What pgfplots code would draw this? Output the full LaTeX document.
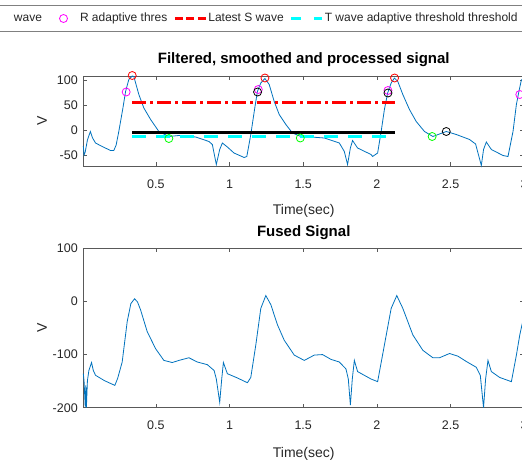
\documentclass[border=0pt]{standalone}
\usepackage{pgfplots}
\pgfplotsset{compat=1.18}
\usepackage{fontspec}
\setmainfont{Liberation Sans}
\definecolor{mblue}{RGB}{0,114,189}
\definecolor{axgray}{RGB}{38,38,38}
\definecolor{mcyan}{RGB}{0,255,255}
\definecolor{mgreen}{RGB}{0,255,0}
\definecolor{mmag}{RGB}{255,0,255}

\pgfplotsset{
  mstyle/.style={
    scale only axis, clip=false,
    axis line style={black!65, line width=0.6pt},
    tick style={black!65, line width=0.6pt},
    tick align=inside, major tick length=4pt,
    xmin=0.007, xmax=3, xtick={0.5,1,1.5,2,2.5,3},
    /pgf/number format/assume math mode=true,
    tick label style={font=\fontsize{12.5}{14}\selectfont, text=axgray},
    xticklabel style={yshift=-10pt},
    yticklabel style={xshift=-2pt},
    label style={font=\fontsize{14}{16}\selectfont, text=axgray},
    every axis title shift=0pt,
    title style={font=\fontsize{15}{17}\selectfont\bfseries,
      at={(axis description cs:0.5,1)}, anchor=center, yshift=16pt},
    xlabel={Time(sec)}, ylabel={V},
    ylabel style={at={(axis description cs:-0.0937,0.5)}, anchor=center},
  },
  sig/.style={mblue, line width=0.8pt},
  circ/.style={only marks, mark=o, mark size=4pt, line width=0.8pt, #1},
}

\begin{document}
\begin{tikzpicture}[x=1pt,y=1pt]
\useasboundingbox (0,0) rectangle (522,461);
\clip (0,0) rectangle (522,461);

% filtered signal
\begin{axis}[mstyle, at={(83.3pt,295pt)}, anchor=south west,
  width=440.9pt, height=90pt,
  ymin=-71, ymax=109, ytick={-50,0,50,100},
  title={Filtered, smoothed and processed signal},
  xlabel style={at={(axis description cs:0.5,0)}, anchor=center, yshift=-45pt},
  legend columns=-1, legend cell align=left,
  legend style={at={(axis description cs:-0.2445,1.7889)}, anchor=north west,
    draw=black!50, line width=1pt, fill=white, inner xsep=6pt, inner ysep=6pt,
    font=\fontsize{12}{14}\selectfont, text=axgray,
    nodes={inner sep=1pt, text height=9pt, text depth=3pt},
    /tikz/every odd column/.append style={column sep=0pt},
    /tikz/every even column/.append style={column sep=5pt}},
]
\addlegendimage{legend image code/.code={\path[draw=none] (0pt,0pt) -- (31pt,0pt);}}
\addlegendentry{wave}
\addlegendimage{legend image code/.code={\path[draw=none] (0pt,0pt) -- (31pt,0pt);
  \draw[mmag, line width=0.8pt] (15.5pt,0pt) circle (4pt);}}
\addlegendentry{R adaptive thres}
\addlegendimage{legend image code/.code={\draw[red, line width=3pt, dash pattern=on 8pt off 3.5pt] (0pt,0pt) -- (31pt,0pt);}}
\addlegendentry{Latest S wave}
\addlegendimage{legend image code/.code={\draw[mcyan, line width=3pt, dash pattern=on 10pt off 13pt] (0pt,0pt) -- (31pt,0pt);}}
\addlegendentry{T wave adaptive threshold threshold\hspace*{12pt}}

\addplot[sig] coordinates {
(0.007,-31) (0.012,-49) (0.02,-43) (0.035,-19) (0.055,-2) (0.07,-15)
(0.09,-25) (0.135,-32) (0.192,-40) (0.214,-40) (0.23,-29) (0.248,-2)
(0.276,45) (0.294,78) (0.316,102) (0.339,109) (0.35,108) (0.384,72)
(0.418,45) (0.464,22) (0.52,-2) (0.588,-12) (0.656,-10) (0.77,-13)
(0.86,-22) (0.883,-28) (0.91,-68) (0.933,-38) (0.951,-25) (0.985,-33)
(1.03,-45) (1.099,-54) (1.117,-52) (1.144,-8) (1.171,45) (1.189,78)
(1.212,95) (1.24,104) (1.269,92) (1.303,58) (1.337,32) (1.382,12)
(1.427,-5) (1.484,-12) (1.552,-13) (1.643,-15) (1.745,-25) (1.779,-42)
(1.801,-68) (1.82,-35) (1.835,-20) (1.869,-35) (1.96,-48) (1.971,-52)
(2.005,-45) (2.029,-2) (2.051,42) (2.073,75) (2.097,95) (2.119,105)
(2.142,98) (2.176,72) (2.221,42) (2.267,18) (2.323,-2) (2.38,-12)
(2.425,-7) (2.471,-2) (2.539,-8) (2.629,-18) (2.67,-27) (2.709,-70)
(2.724,-38) (2.743,-23) (2.777,-38) (2.856,-50) (2.89,-52) (2.924,-2)
(2.947,52) (2.964,78) (2.98,100) (3.0,108)
};
\addplot[red, line width=3.2pt, dash pattern=on 14pt off 4pt on 3pt off 4pt]
  coordinates {(0.339,56) (2.126,56)};
\addplot[black, line width=3.2pt] coordinates {(0.339,-4.5) (2.126,-4.5)};
\addplot[mcyan, line width=3.2pt, dash pattern=on 13.5pt off 10.5pt]
  coordinates {(0.339,-12.5) (2.126,-12.5)};
\addplot[circ=red] coordinates {(0.339,110) (1.24,105) (2.12,105)};
\addplot[circ=mmag] coordinates {(0.298,77) (1.195,82) (2.075,80) (2.97,72)};
\addplot[circ=black] coordinates {(1.19,77) (2.075,75) (2.471,-2)};
\addplot[circ=mgreen] coordinates {(0.588,-16) (1.48,-15) (2.375,-12)};
\end{axis}

% fused signal
\begin{axis}[mstyle, at={(83.3pt,53.3pt)}, anchor=south west,
  width=440.9pt, height=159.4pt,
  ymin=-200, ymax=100, ytick={-200,-100,0,100},
  title={Fused Signal},
  xlabel style={at={(axis description cs:0.5,0)}, anchor=center, yshift=-46pt},
]
\addplot[sig] coordinates {
(0.007,-136) (0.012,-149) (0.02,-198) (0.024,-158) (0.028,-200) (0.035,-149)
(0.045,-130) (0.063,-115) (0.075,-130) (0.09,-139) (0.15,-149) (0.221,-158)
(0.24,-145) (0.271,-114) (0.305,-38) (0.33,-4) (0.355,5) (0.375,-1)
(0.396,-16) (0.441,-57) (0.498,-89) (0.554,-111) (0.611,-115) (0.656,-111)
(0.724,-106) (0.781,-114) (0.849,-119) (0.895,-130) (0.91,-146) (0.933,-190)
(0.947,-145) (0.958,-115) (0.985,-136) (1.053,-144) (1.121,-153) (1.144,-143)
(1.178,-82) (1.212,-13) (1.246,11) (1.28,-6) (1.325,-44) (1.371,-73)
(1.439,-101) (1.507,-111) (1.575,-101) (1.631,-100) (1.688,-109) (1.745,-114)
(1.79,-127) (1.806,-146) (1.82,-195) (1.833,-146) (1.847,-111) (1.869,-132)
(1.96,-146) (2.005,-151) (2.051,-82) (2.097,-13) (2.135,11) (2.176,-13)
(2.244,-63) (2.312,-92) (2.38,-106) (2.425,-106) (2.493,-98) (2.55,-103)
(2.607,-113) (2.675,-124) (2.702,-139) (2.724,-200) (2.738,-146) (2.754,-111)
(2.777,-132) (2.833,-143) (2.913,-151) (2.947,-101) (2.97,-63) (3.0,-25)
};
\end{axis}
\end{tikzpicture}
\end{document}
